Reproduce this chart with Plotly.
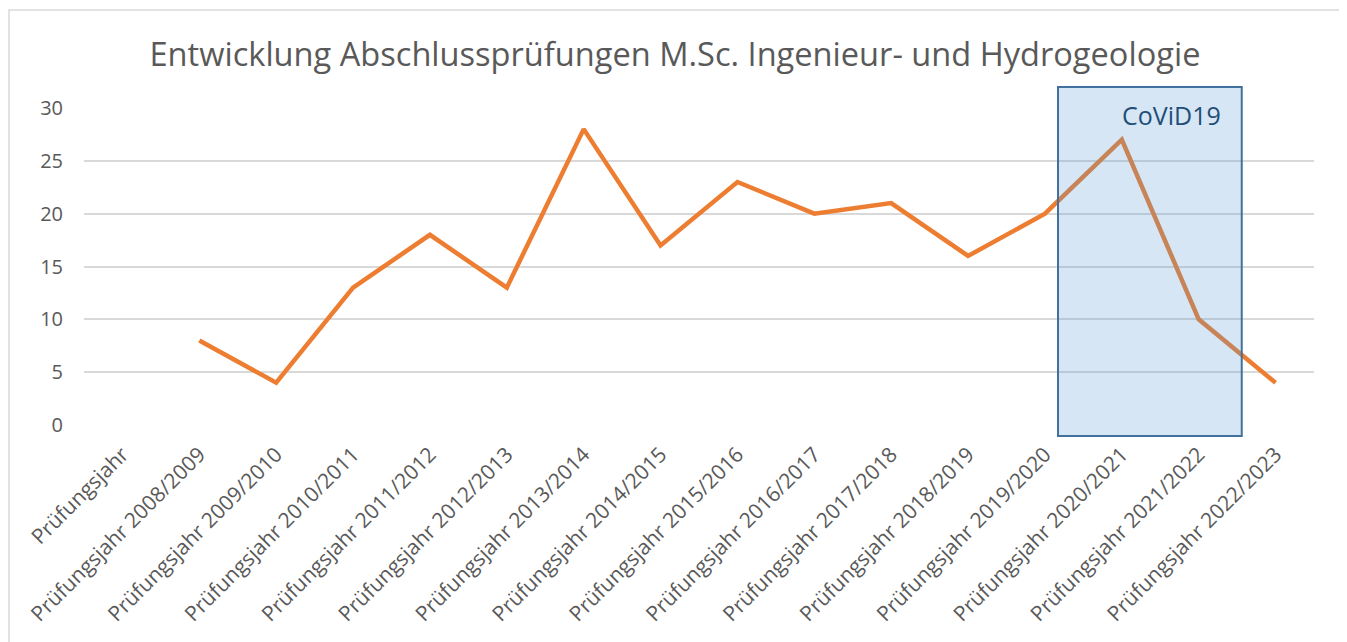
import plotly.graph_objects as go

categories = ["Prüfungsjahr", "Prüfungsjahr 2008/2009", "Prüfungsjahr 2009/2010",
              "Prüfungsjahr 2010/2011", "Prüfungsjahr 2011/2012", "Prüfungsjahr 2012/2013",
              "Prüfungsjahr 2013/2014", "Prüfungsjahr 2014/2015", "Prüfungsjahr 2015/2016",
              "Prüfungsjahr 2016/2017", "Prüfungsjahr 2017/2018", "Prüfungsjahr 2018/2019",
              "Prüfungsjahr 2019/2020", "Prüfungsjahr 2020/2021", "Prüfungsjahr 2021/2022",
              "Prüfungsjahr 2022/2023"]
values = [None, 8, 4, 13, 18, 13, 28, 17, 23, 20, 21, 16, 20, 27, 10, 4]
y_ticks = [0, 5, 10, 15, 20, 25, 30]
title_text = "Entwicklung Abschlussprüfungen M.Sc. Ingenieur- und Hydrogeologie"
covid_label = "CoViD19"

FONT = "Open Sans"
GREY = "#595959"

# page body has an 8px margin; compensate so the chart sits where the reference has it
OFF = 8
W, H = 1347 - OFF, 642 - OFF
L, T = 84 - OFF, 108 - OFF
PW, PH = 1230, 317
R, B = W - L - PW, H - T - PH

fig = go.Figure()
fig.add_trace(go.Scatter(
    x=list(range(len(categories))), y=values, mode="lines",
    line=dict(color="#ED7D31", width=4.5, shape="linear"),
    connectgaps=False, showlegend=False, hoverinfo="skip",
))

fig.update_layout(
    width=W, height=H,
    margin=dict(l=L, r=R, t=T, b=B),
    paper_bgcolor="white", plot_bgcolor="white",
    title=dict(text=title_text, x=(675 - OFF) / W, xanchor="center", y=1 - (55 - OFF) / H,
               yanchor="middle", font=dict(family=FONT, size=32.6, color=GREY)),
    xaxis=dict(
        range=[-0.5, len(categories) - 0.5],
        tickmode="array", tickvals=list(range(len(categories))), ticktext=categories,
        tickangle=-45, showgrid=False, zeroline=False, showline=False,
        tickfont=dict(family=FONT, size=21, color=GREY), ticks="", ticklabelstandoff=12,
    ),
    yaxis=dict(
        range=[0, 30], tickvals=y_ticks, showgrid=True, gridcolor="#D9D9D9", gridwidth=1.5,
        zeroline=False, showline=False, ticks="",
        tickfont=dict(family=FONT, size=20, color=GREY), ticklabelstandoff=20,
    ),
    font=dict(family=FONT, color=GREY),
)

# Outer chart border (figure-pixel positions converted to paper units)
fig.add_shape(type="rect", xref="paper", yref="paper",
              x0=(1 - L) / PW, x1=(1334 - L) / PW,
              y0=-(B + 20) / PH, y1=1 + (T - 2) / PH,
              line=dict(color="#D9D9D9", width=1.5), fillcolor="rgba(0,0,0,0)", layer="below")

# CoViD19 highlight box
fig.add_shape(type="rect", xref="x", yref="paper",
              x0=12.17, x1=14.56, y0=-11 / PH, y1=1 + 21 / PH,
              line=dict(color="#41719C", width=2),
              fillcolor="rgba(91,155,213,0.25)", layer="above")
fig.add_annotation(xref="x", yref="paper", x=12.98, y=1 - 7 / PH,
                   text=covid_label, showarrow=False, xanchor="left", yanchor="middle",
                   font=dict(family=FONT, size=25, color="#1F4E79"))

fig.write_html("out.html")
